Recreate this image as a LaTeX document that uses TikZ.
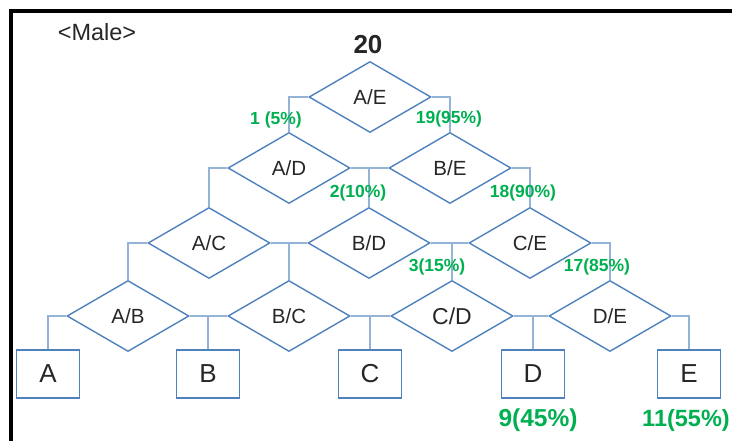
\documentclass[tikz,border=0pt]{standalone}
\usepackage{fontspec}
\setmainfont{Liberation Sans}
\usetikzlibrary{shapes.geometric}
\definecolor{diablue}{RGB}{79,129,189}
\definecolor{linkblue}{RGB}{149,179,215}
\definecolor{pctgreen}{RGB}{0,176,80}
\definecolor{txtgray}{RGB}{38,38,38}
\tikzset{
  dia/.style={diamond, draw=diablue, line width=1.4pt, aspect=1.7, inner sep=0pt,
    minimum width=122pt, minimum height=71pt, text=txtgray,
    font=\fontsize{20.5}{22}\selectfont},
  leaf/.style={draw=diablue, line width=1.4pt, minimum width=63pt, minimum height=48pt,
    inner sep=0pt, text=txtgray, font=\fontsize{26}{28}\selectfont},
  link/.style={draw=linkblue, line width=1.2pt},
  pct/.style={text=pctgreen, font=\bfseries\fontsize{17.5}{19}\selectfont}
}
\begin{document}
\begin{tikzpicture}[x=1pt,y=-1pt]
\useasboundingbox (0,0) rectangle (732,441);
\draw[line width=3.5pt] (11,441) -- (11,11) -- (732,11);
\node[text=txtgray, font=\fontsize{23.5}{25}\selectfont] (male) at (97,32) {<Male>};
\node[text=txtgray, font=\bfseries\fontsize{26}{28}\selectfont] (total) at (368,45) {20};
% comparisons
\foreach \a/\b/\x/\y in {A/E/370/97, A/D/289/168, B/E/450/168,
  A/C/209/243, B/D/369/243, C/E/530/243,
  A/B/128/316, B/C/289/316, D/E/610/316}
\node[dia] (\a\b) at (\x,\y) {\a/\b};
\node[dia, font=\fontsize{23}{25}\selectfont] (CD) at (452,316) {C/D};
% results
\foreach \n/\x in {A/48,B/208,C/370,D/533,E/689}
\node[leaf] (\n) at (\x,374) {\n};
% connectors
\draw[link] (AE.west) -| (AD.north);
\draw[link] (AE.east) -| (BE.north);
\draw[link] (AD.west) -| (AC.north);
\draw[link] (AD.east) -- (BE.west);
\draw[link] (BD.north) |- (AD.east);
\draw[link] (BE.east) -| (CE.north);
\draw[link] (AC.west) -| (AB.north);
\draw[link] (AC.east) -- (BD.west);
\draw[link] (BC.north) |- (AC.east);
\draw[link] (BD.east) -- (CE.west);
\draw[link] (CD.north) |- (BD.east);
\draw[link] (CE.east) -| (DE.north);
\draw[link] (AB.west) -| (A.north);
\draw[link] (AB.east) -- (BC.west);
\draw[link] (B.north) |- (AB.east);
\draw[link] (BC.east) -- (CD.west);
\draw[link] (C.north) |- (BC.east);
\draw[link] (CD.east) -- (DE.west);
\draw[link] (D.north) |- (CD.east);
\draw[link] (DE.east) -| (E.north);
% counts
\node[pct] (pAD) at (276,120) {1 (5\%)};
\node[pct] (pBE) at (449,119) {19(95\%)};
\node[pct] (pBD) at (358,193) {2(10\%)};
\node[pct] (pCE) at (523,193) {18(90\%)};
\node[pct] (pCD) at (437,267) {3(15\%)};
\node[pct] (pDE) at (597,267) {17(85\%)};
\node[pct, font=\bfseries\fontsize{24.5}{26}\selectfont] (pD) at (538,420) {9(45\%)};
\node[pct, font=\bfseries\fontsize{23.5}{25}\selectfont] (pE) at (686,420) {11(55\%)};
\end{tikzpicture}
\end{document}
